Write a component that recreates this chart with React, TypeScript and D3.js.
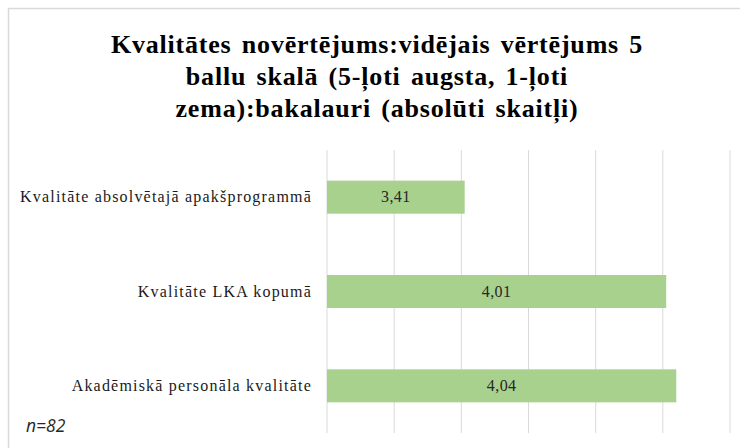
import React from 'react'
import * as d3 from 'd3'

const titleLines = [
	'Kvalitātes novērtējums:vidējais vērtējums 5',
	'ballu skalā (5-ļoti augsta, 1-ļoti',
	'zema):bakalauri (absolūti skaitļi)',
]
const categories = [
	'Kvalitāte absolvētajā apakšprogrammā',
	'Kvalitāte LKA kopumā',
	'Akadēmiskā personāla kvalitāte',
]
const values = [3.41, 4.01, 4.04]
const gridTicks = [3.0, 3.2, 3.4, 3.6, 3.8, 4.0, 4.2]
const note = 'n=82'

const width = 740
const height = 448
const plot = { left: 327, right: 730, top: 150, bottom: 433 }
const serif = "'Liberation Serif', 'Times New Roman', 'DejaVu Serif', serif"

export default function App() {
	const x = d3
		.scaleLinear()
		.domain([gridTicks[0], gridTicks[gridTicks.length - 1]])
		.range([plot.left, plot.right])
	const y = d3
		.scaleBand()
		.domain(categories)
		.range([plot.top, plot.bottom])
		.paddingInner(0.65)
		.paddingOuter(0.325)

	const fmt = (v: number) => d3.format('.2f')(v).replace('.', ',')

	return (
		<svg
			width={width}
			height={height}
			style={{ position: 'absolute', left: 0, top: 0, background: '#fff' }}
		>
			<rect x={8.5} y={8.5} width={800} height={600} fill="#fff" stroke="#d9d9d9" strokeWidth={1.5} />

			{titleLines.map((line, i) => (
				<text
					key={i}
					x={377}
					y={52.5 + i * 32}
					textAnchor="middle"
					style={{ fontFamily: serif, letterSpacing: '0.8px', wordSpacing: '3px' }}
					fontWeight="bold"
					fontSize={26}
					fill="#000"
				>
					{line}
				</text>
			))}

			{gridTicks.map(t => (
				<line key={t} x1={x(t)} x2={x(t)} y1={plot.top} y2={plot.bottom} stroke="#d9d9d9" strokeWidth={1} />
			))}

			{categories.map((c, i) => (
				<g key={c}>
					<rect
						x={x(gridTicks[0])}
						y={y(c)}
						width={x(values[i]) - x(gridTicks[0])}
						height={y.bandwidth()}
						fill="#a9d18e"
					/>
					<text
						x={(x(gridTicks[0]) + x(values[i])) / 2}
						y={(y(c) ?? 0) + y.bandwidth() / 2}
						dy="0.33em"
						textAnchor="middle"
						style={{ fontFamily: serif, letterSpacing: '0.4px' }}
						fontSize={16}
						fill="#262626"
					>
						{fmt(values[i])}
					</text>
					<text
						x={312}
						y={(y(c) ?? 0) + y.bandwidth() / 2}
						dy="0.33em"
						textAnchor="end"
						style={{ fontFamily: serif, letterSpacing: '1.2px' }}
						fontSize={16}
						fill="#1a1a1a"
					>
						{c}
					</text>
				</g>
			))}

			<text x={26} y={432} fontFamily="'Open Sans', sans-serif" fontStyle="italic" fontSize={17.5} fill="#262626">
				{note}
			</text>
		</svg>
	)
}
